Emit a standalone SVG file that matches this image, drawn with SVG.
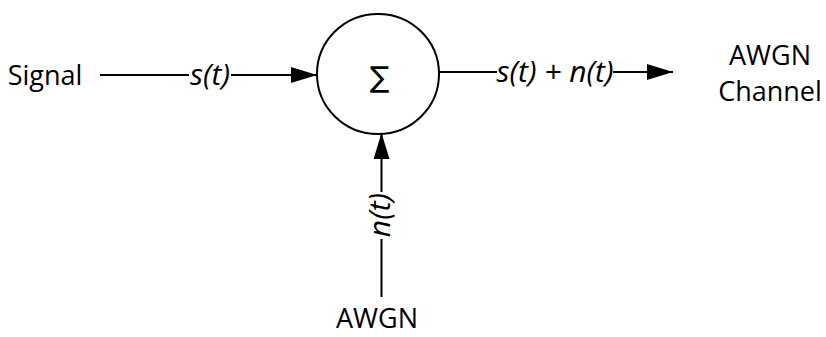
<svg xmlns="http://www.w3.org/2000/svg" width="826" height="337" viewBox="0 0 826 337">
<style>
text{font-family:"Open Sans","Liberation Sans",sans-serif;font-size:27px;fill:#000;text-anchor:middle}
.i{font-style:italic;font-size:30px}
.ln{stroke:#000;stroke-width:2;fill:none}
</style>
<defs>
<marker id="ah" markerWidth="26" markerHeight="16" refX="26" refY="8" orient="auto" markerUnits="userSpaceOnUse">
<path d="M0,0 L26,8 L0,16 Z" fill="#000"/>
</marker>
</defs>
<rect width="826" height="337" fill="#fff"/>
<g id="signal"><text x="45" y="85">Signal</text></g>
<g id="sum">
<ellipse cx="378" cy="74" rx="61" ry="60" fill="#fff" stroke="#000" stroke-width="2"/>
<text x="379.5" y="87" style="font-family:'DejaVu Sans',sans-serif;font-size:29px">∑</text>
</g>
<g id="channel"><text x="770" y="65">AWGN</text><text x="770" y="101">Channel</text></g>
<g id="awgn"><text x="377" y="328">AWGN</text></g>
<g id="connectors">
<line class="ln" x1="100" y1="75" x2="189" y2="75"/>
<line class="ln" x1="231" y1="75" x2="317" y2="75" marker-end="url(#ah)"/>
<text class="i" x="210" y="85">s(t)</text>
<line class="ln" x1="439" y1="72" x2="497" y2="72"/>
<line class="ln" x1="613" y1="72" x2="673" y2="72" marker-end="url(#ah)"/>
<text class="i" x="555" y="82">s(t) + n(t)</text>
<line class="ln" x1="381.5" y1="297" x2="381.5" y2="239"/>
<line class="ln" x1="381.5" y1="192" x2="381.5" y2="133" marker-end="url(#ah)"/>
<text class="i" transform="translate(390,215) rotate(-90)">n(t)</text>
</g>
</svg>
